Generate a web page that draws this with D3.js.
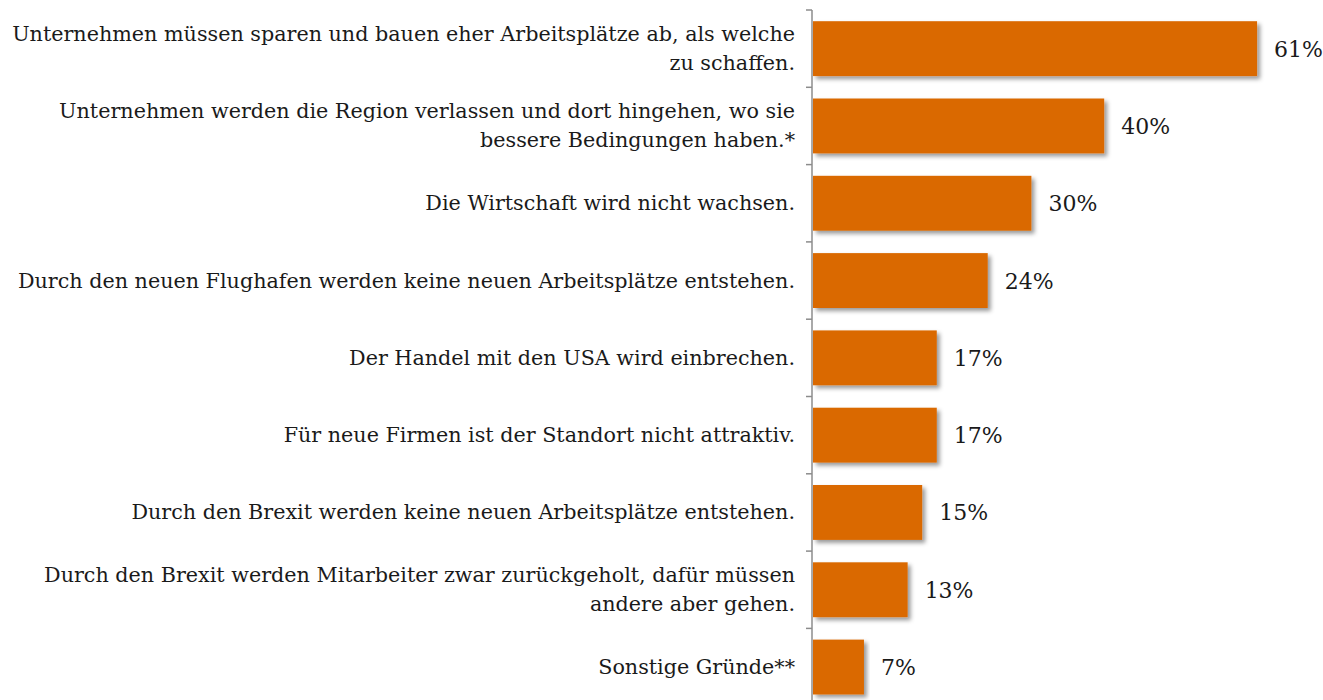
<!DOCTYPE html>
<html>
<head>
<meta charset="utf-8">
<script src="https://cdn.jsdelivr.net/npm/d3@7"></script>
<style>
  body { margin: 0; background: #fff; }
  text { font-family: "DejaVu Serif", Georgia, serif; fill: #1a1a1a; }
</style>
</head>
<body>
<div id="chart"></div>
<script>
const categories = [
  ['Unternehmen müssen sparen und bauen eher Arbeitsplätze ab, als welche', 'zu schaffen.'],
  ['Unternehmen werden die Region verlassen und dort hingehen, wo sie', 'bessere Bedingungen haben.*'],
  ['Die Wirtschaft wird nicht wachsen.'],
  ['Durch den neuen Flughafen werden keine neuen Arbeitsplätze entstehen.'],
  ['Der Handel mit den USA wird einbrechen.'],
  ['Für neue Firmen ist der Standort nicht attraktiv.'],
  ['Durch den Brexit werden keine neuen Arbeitsplätze entstehen.'],
  ['Durch den Brexit werden Mitarbeiter zwar zurückgeholt, dafür müssen', 'andere aber gehen.'],
  ['Sonstige Gründe**']
]
const values = [61, 40, 30, 24, 17, 17, 15, 13, 7]

const width = 1323
const height = 700
const axisX = 812

const svg = d3.select('#chart').append('svg')
  .attr('width', width)
  .attr('height', height)

const defs = svg.append('defs')
const shadow = defs.append('filter')
  .attr('id', 'shadow')
  .attr('x', '-5%').attr('y', '-10%')
  .attr('width', '115%').attr('height', '140%')
shadow.append('feDropShadow')
  .attr('dx', 3).attr('dy', 3)
  .attr('stdDeviation', 2)
  .attr('flood-color', '#000')
  .attr('flood-opacity', 0.4)

const idx = d3.range(categories.length)

const y = d3.scaleBand()
  .domain(idx)
  .range([10, 10 + 9 * 77.3])
  .paddingInner(0.29)
  .paddingOuter(0.145)

const x = d3.scaleLinear()
  .domain([0, 70])
  .range([axisX + 1, axisX + 1 + 7.28 * 70])

// bars
svg.selectAll('rect.bar')
  .data(idx)
  .enter()
  .append('rect')
  .attr('class', 'bar')
  .attr('x', x(0))
  .attr('y', i => y(i))
  .attr('width', i => x(values[i]) - x(0))
  .attr('height', y.bandwidth())
  .attr('fill', '#da6900')
  .attr('filter', 'url(#shadow)')

// axis line and ticks between categories
const gap = (y.step() - y.bandwidth()) / 2
const ticks = idx.map(i => y(i) - gap).concat([y(idx.length - 1) + y.bandwidth() + gap])

svg.append('line')
  .attr('x1', axisX).attr('x2', axisX)
  .attr('y1', ticks[0]).attr('y2', height)
  .attr('stroke', '#8c8c8c')
  .attr('stroke-width', 1.5)

svg.selectAll('line.tick')
  .data(ticks)
  .enter()
  .append('line')
  .attr('class', 'tick')
  .attr('x1', axisX - 6).attr('x2', axisX)
  .attr('y1', d => d).attr('y2', d => d)
  .attr('stroke', '#8c8c8c')
  .attr('stroke-width', 1.5)

// category labels
const labels = svg.selectAll('text.cat')
  .data(idx)
  .enter()
  .append('text')
  .attr('class', 'cat')
  .attr('text-anchor', 'end')
  .style('font-size', '20.7px')

labels.each(function (i) {
  const lines = categories[i]
  const cy = y(i) + y.bandwidth() / 2
  const lh = 29
  const top = cy - (lines.length - 1) * lh / 2 + 7
  d3.select(this).selectAll('tspan')
    .data(lines)
    .enter()
    .append('tspan')
    .attr('x', axisX - 17)
    .attr('y', (d, k) => top + k * lh)
    .text(d => d)
})

// value labels
svg.selectAll('text.val')
  .data(idx)
  .enter()
  .append('text')
  .attr('class', 'val')
  .attr('x', i => x(values[i]) + 17)
  .attr('y', i => y(i) + y.bandwidth() / 2 + 8)
  .style('font-size', '22px')
  .text(i => values[i] + '%')
</script>
</body>
</html>
